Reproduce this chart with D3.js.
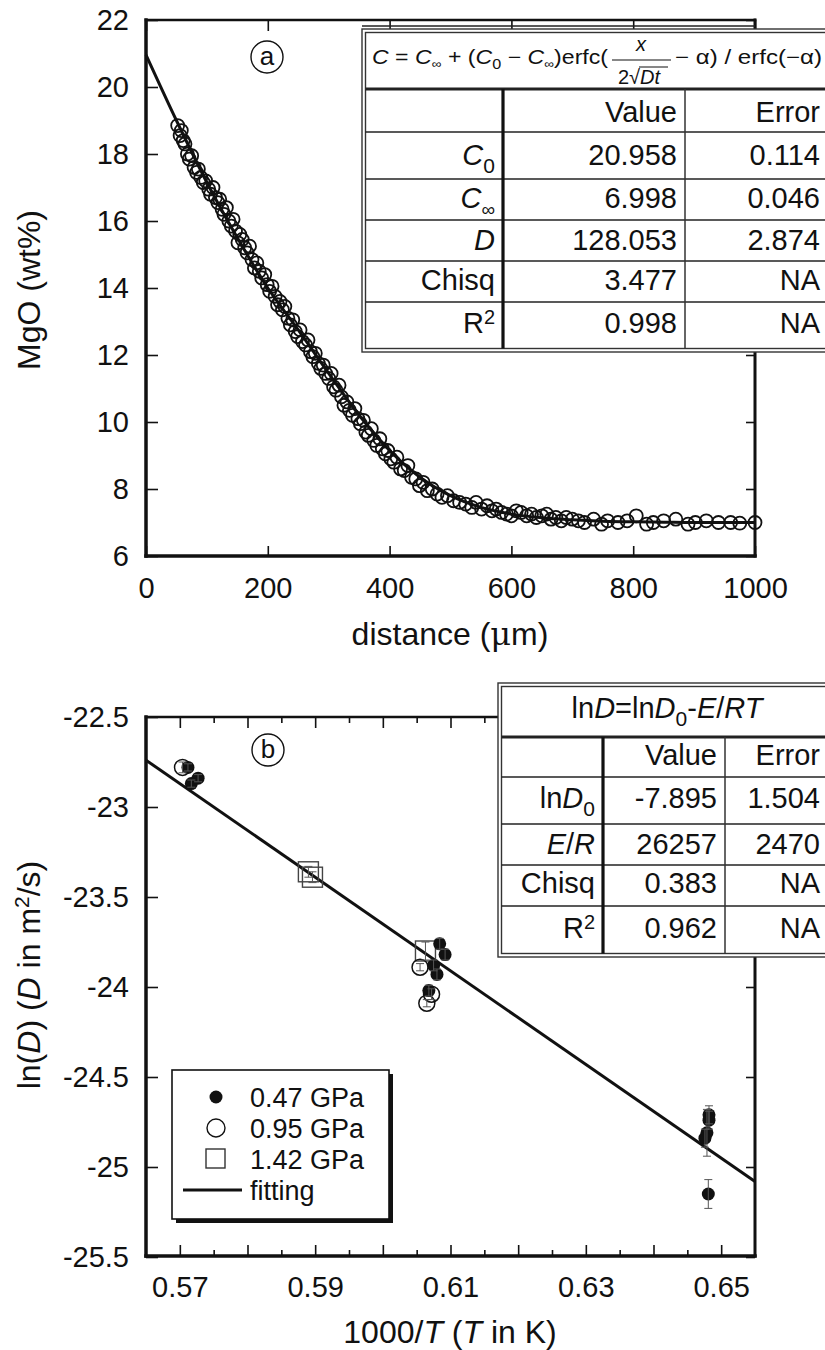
<!DOCTYPE html>
<html>
<head>
<meta charset="utf-8">
<script src="https://cdn.jsdelivr.net/npm/d3@7"></script>
<style>
  body { margin: 0; background: #fff; }
  svg text { font-family: "Liberation Sans", Arial, sans-serif; fill: #111; }
</style>
</head>
<body>
<svg id="chart" width="825" height="1350"></svg>
<script>
// ---- panel (a): MgO diffusion profile ----
const aDist = [52,56,58,61,64,68,71,75,79,83,86,90,94,98,103,106,110,114,118,121,125,128,132,136,140,143,147,151,154,158,162,166,170,174,178,182,186,190,195,199,203,207,212,216,220,224,228,233,237,241,245,249,253,257,262,266,270,274,278,283,287,291,295,300,304,308,312,317,321,325,330,334,339,343,348,352,357,361,365,370,374,379,384,388,393,397,402,407,412,418,424,430,436,443,449,455,462,470,478,486,495,505,515,525,535,542,551,560,568,575,584,592,600,608,616,625,633,641,650,658,665,673,682,690,700,710,720,735,748,758,775,790,805,822,833,850,870,890,902,920,940,960,975,1000];
const aMgO = [18.85,18.55,18.7,18.4,18.3,18.0,17.85,17.95,17.6,17.45,17.55,17.3,17.15,17.2,16.95,16.8,17.0,16.7,16.55,16.65,16.35,16.2,16.4,16.0,15.85,16.05,15.7,15.35,15.6,15.45,15.2,15.05,15.25,14.85,14.6,14.75,14.5,14.3,14.4,14.1,13.9,14.05,13.75,13.5,13.6,13.35,13.45,13.1,12.9,13.05,12.7,12.55,12.75,12.4,12.3,12.45,12.1,11.95,12.05,11.75,11.6,11.7,11.45,11.3,11.45,11.05,10.95,11.1,10.75,10.5,10.6,10.35,10.2,10.4,10.1,9.95,10.05,9.7,9.6,9.8,9.45,9.3,9.5,9.2,9.05,9.15,8.9,8.8,8.95,8.6,8.55,8.7,8.35,8.3,8.1,8.2,7.95,8.0,7.85,7.75,7.8,7.65,7.6,7.55,7.45,7.6,7.4,7.5,7.35,7.4,7.3,7.25,7.2,7.35,7.3,7.2,7.25,7.15,7.2,7.25,7.1,7.15,7.05,7.15,7.1,7.05,7.0,7.1,6.95,7.05,7.0,7.05,7.2,6.95,7.0,7.05,7.1,6.95,7.0,7.05,7.0,7.0,6.98,7.0];
// fitted curve
const aFitX = [0,50,100,150,200,250,300,350,400,450,500,550,600,650,700,750,800,850,900,950,1000];
const aFitY = [20.96,19.0,17.15,15.5,14.0,12.75,11.45,10.2,9.15,8.35,7.8,7.45,7.25,7.14,7.08,7.04,7.02,7.01,7.0,7.0,7.0];
const aXTicks = [0,200,400,600,800,1000];
const aYTicks = [6,8,10,12,14,16,18,20,22];
const aRowLabels = ["C0","Cinf","D","Chisq","R2"];
const aValues = ["20.958","6.998","128.053","3.477","0.998"];
const aErrors = ["0.114","0.046","2.874","NA","NA"];

// ---- panel (b): Arrhenius plot ----
const p047X = [0.5712,0.5727,0.5717,0.6084,0.6092,0.6080,0.6068,0.6075,0.6482,0.6482,0.6479,0.6476,0.6481];
const p047Y = [-22.78,-22.84,-22.87,-23.76,-23.82,-23.93,-24.02,-23.88,-24.71,-24.74,-24.81,-24.84,-25.15];
const p047E = [0.02,0.02,0.02,0.03,0.03,0.03,0.03,0.03,0.05,0.05,0.13,0.05,0.08];
const p095X = [0.5704,0.6055,0.6072,0.6065];
const p095Y = [-22.78,-23.89,-24.04,-24.09];
const p095E = [0.03,0.02,0.03,0.02];
const p142X = [0.5890,0.5896,0.6063];
const p142Y = [-23.36,-23.39,-23.80];
const p142E = [0.03,0.03,0.05];
const bFitX = [0.565,0.655];
const bFitY = [-22.74,-25.08];
const bXMajor = [0.57,0.58,0.59,0.60,0.61,0.62,0.63,0.64,0.65];
const bXMinor = [0.575,0.585,0.595,0.605,0.615,0.625,0.635,0.645];
const bXLabels = [0.57,0.59,0.61,0.63,0.65];
const bYTicks = [-25.5,-25,-24.5,-24,-23.5,-23,-22.5];
const bRowLabels = ["lnD0","E/R","Chisq","R2"];
const bValues = ["-7.895","26257","0.383","0.962"];
const bErrors = ["1.504","2470","NA","NA"];
const legendLabels = ["0.47 GPa","0.95 GPa","1.42 GPa","fitting"];

const svg = d3.select("#chart");
svg.append("rect").attr("width", 825).attr("height", 1350).attr("fill", "#fff");

const xA = d3.scaleLinear().domain([0, 1000]).range([146, 755]);
const yA = d3.scaleLinear().domain([6, 22]).range([556, 20]);
const xB = d3.scaleLinear().domain([0.565, 0.655]).range([146, 755]);
const yB = d3.scaleLinear().domain([-25.5, -22.5]).range([1257, 717]);

const tickFont = "29px";

function styleAxis(g) {
  g.select(".domain").remove();
  g.selectAll(".tick line").attr("stroke", "#111").attr("stroke-width", 1.6);
  g.selectAll(".tick text").style("font-size", tickFont).attr("fill", "#111");
}

function frame(x0, x1, y0, y1) {
  const f = svg.append("g").attr("stroke", "#111").attr("stroke-linecap", "square");
  f.append("line").attr("x1", x0).attr("x2", x1).attr("y1", y0).attr("y2", y0).attr("stroke-width", 2.5);
  f.append("line").attr("x1", x1).attr("x2", x1).attr("y1", y0).attr("y2", y1).attr("stroke-width", 3);
  f.append("line").attr("x1", x0).attr("x2", x1).attr("y1", y1).attr("y2", y1).attr("stroke-width", 3.5);
  f.append("line").attr("x1", x0).attr("x2", x0).attr("y1", y0).attr("y2", y1).attr("stroke-width", 3.5);
}

function circledLetter(cx, cy, ch) {
  svg.append("circle").attr("cx", cx).attr("cy", cy).attr("r", 16)
    .attr("fill", "#fff").attr("stroke", "#111").attr("stroke-width", 1.4);
  svg.append("text").attr("x", cx).attr("y", cy + 8).attr("text-anchor", "middle")
    .style("font-size", "26px").text(ch);
}

// subscript / superscript helper for table labels
function richLabel(t, key) {
  if (key === "C0") {
    t.append("tspan").style("font-style", "italic").text("C");
    t.append("tspan").attr("dy", 8).style("font-size", "21px").text("0");
  } else if (key === "Cinf") {
    t.append("tspan").style("font-style", "italic").text("C");
    t.append("tspan").attr("dy", 8).style("font-size", "19px").text("\u221E");
  } else if (key === "D") {
    t.append("tspan").style("font-style", "italic").text("D");
  } else if (key === "R2") {
    t.append("tspan").text("R");
    t.append("tspan").attr("dy", -9).style("font-size", "20px").text("2");
  } else if (key === "lnD0") {
    t.append("tspan").text("ln");
    t.append("tspan").style("font-style", "italic").text("D");
    t.append("tspan").attr("dy", 8).style("font-size", "21px").text("0");
  } else if (key === "E/R") {
    t.append("tspan").style("font-style", "italic").text("E");
    t.append("tspan").text("/");
    t.append("tspan").style("font-style", "italic").text("R");
  } else {
    t.text(key);
  }
}

function statTable(o) {
  const g = svg.append("g");
  g.append("rect").attr("x", o.x0).attr("y", o.y0).attr("width", 840 - o.x0).attr("height", o.y1 - o.y0)
    .attr("fill", "#fff").attr("stroke", "#333").attr("stroke-width", 1.4);
  g.append("rect").attr("x", o.x0 + 3.5).attr("y", o.y0 + 3.5).attr("width", 840 - o.x0).attr("height", o.y1 - o.y0 - 7)
    .attr("fill", "none").attr("stroke", "#333").attr("stroke-width", 1.4);
  const bottom = o.y1 - 3.5;
  // horizontal rules
  o.rows.forEach((ry, i) => {
    g.append("line").attr("x1", o.x0 + 3.5).attr("x2", 830).attr("y1", ry).attr("y2", ry)
      .attr("stroke", "#222").attr("stroke-width", i === 0 ? 3.2 : 1.5);
  });
  // column rules
  g.append("line").attr("x1", o.c1).attr("x2", o.c1).attr("y1", o.rows[0]).attr("y2", bottom)
    .attr("stroke", "#111").attr("stroke-width", 3.2);
  g.append("line").attr("x1", o.c2).attr("x2", o.c2).attr("y1", o.rows[0]).attr("y2", bottom)
    .attr("stroke", "#333").attr("stroke-width", 1.5);
  const fs = "29px";
  g.append("text").attr("x", o.c2 - 8).attr("y", o.base[0]).attr("text-anchor", "end").style("font-size", fs).text("Value");
  g.append("text").attr("x", 820).attr("y", o.base[0]).attr("text-anchor", "end").style("font-size", fs).text("Error");
  o.labels.forEach((lab, i) => {
    const t = g.append("text").attr("x", o.c1 - 8).attr("y", o.base[i + 1]).attr("text-anchor", "end").style("font-size", fs);
    richLabel(t, lab);
    g.append("text").attr("x", o.c2 - 8).attr("y", o.base[i + 1]).attr("text-anchor", "end").style("font-size", fs).text(o.values[i]);
    g.append("text").attr("x", 820).attr("y", o.base[i + 1]).attr("text-anchor", "end").style("font-size", fs).text(o.errors[i]);
  });
  return g;
}

// ================= panel (a) =================
const aData = aDist.map((d, i) => ({ x: d, y: aMgO[i] }));
const aFit = aFitX.map((d, i) => ({ x: d, y: aFitY[i] }));

svg.append("g").attr("transform", "translate(0,556)")
  .call(d3.axisBottom(xA).tickValues(aXTicks).tickSize(-10).tickPadding(21).tickFormat(d => String(d)))
  .call(styleAxis);
svg.append("g").attr("transform", "translate(146,0)")
  .call(d3.axisLeft(yA).tickValues(aYTicks).tickSize(-12).tickPadding(17).tickFormat(d => String(d)))
  .call(styleAxis);
svg.append("g").attr("transform", "translate(0,20)")
  .call(d3.axisTop(xA).tickValues(aXTicks).tickSize(-11).tickFormat(""))
  .call(styleAxis);
svg.append("g").attr("transform", "translate(755,0)")
  .call(d3.axisRight(yA).tickValues(aYTicks).tickSize(-9).tickFormat(""))
  .call(styleAxis);
frame(146, 755, 20, 556);

svg.append("path").datum(aFit)
  .attr("fill", "none").attr("stroke", "#111").attr("stroke-width", 3)
  .attr("d", d3.line().x(d => xA(d.x)).y(d => yA(d.y)).curve(d3.curveMonotoneX));

svg.append("g").selectAll("circle").data(aData).join("circle")
  .attr("cx", d => xA(d.x)).attr("cy", d => yA(d.y)).attr("r", 6.5)
  .attr("fill", "none").attr("stroke", "#111").attr("stroke-width", 1.8);

// table (a)
svg.append("line").attr("x1", 362).attr("x2", 755).attr("y1", 26).attr("y2", 26)
  .attr("stroke", "#222").attr("stroke-width", 1.5);
statTable({ x0: 362, y0: 29, y1: 352, rows: [89, 132, 179, 220, 261, 302], c1: 503, c2: 685,
  base: [122, 165, 208, 250, 290, 333], labels: aRowLabels, values: aValues, errors: aErrors });

// formula in the header row of table (a)
const fA = svg.append("g").style("font-size", "20px");
const f1 = fA.append("text").attr("x", 372).attr("y", 64).attr("textLength", 236).attr("lengthAdjust", "spacingAndGlyphs");
f1.append("tspan").style("font-style", "italic").text("C");
f1.append("tspan").text(" = ");
f1.append("tspan").style("font-style", "italic").text("C");
f1.append("tspan").attr("dy", 4).style("font-size", "12px").text("\u221E");
f1.append("tspan").attr("dy", -4).text(" + (");
f1.append("tspan").style("font-style", "italic").text("C");
f1.append("tspan").attr("dy", 5).style("font-size", "14px").text("0");
f1.append("tspan").attr("dy", -5).text(" \u2212 ");
f1.append("tspan").style("font-style", "italic").text("C");
f1.append("tspan").attr("dy", 4).style("font-size", "12px").text("\u221E");
f1.append("tspan").attr("dy", -4).text(")erfc(");
fA.append("text").attr("x", 641).attr("y", 51).attr("text-anchor", "middle").style("font-style", "italic").text("x");
fA.append("line").attr("x1", 612).attr("x2", 671).attr("y1", 60).attr("y2", 60).attr("stroke", "#111").attr("stroke-width", 1.2);
const f2 = fA.append("text").attr("x", 618).attr("y", 84);
f2.append("tspan").text("2\u221A");
f2.append("tspan").style("font-style", "italic").text("Dt");
fA.append("line").attr("x1", 639).attr("x2", 668).attr("y1", 67).attr("y2", 67).attr("stroke", "#111").attr("stroke-width", 1);
fA.append("text").attr("x", 675).attr("y", 64).attr("textLength", 147).attr("lengthAdjust", "spacingAndGlyphs")
  .text("\u2212 \u03B1) / erfc(\u2212\u03B1)");

circledLetter(267, 57, "a");

svg.append("text").attr("transform", "translate(40,290) rotate(-90)").attr("text-anchor", "middle")
  .style("font-size", "32px").text("MgO (wt%)");
const tA = svg.append("text").attr("x", 450).attr("y", 645).attr("text-anchor", "middle").style("font-size", "32px");
tA.append("tspan").text("distance (");
tA.append("tspan").style("font-family", "'DejaVu Serif', serif").text("\u03BC");
tA.append("tspan").text("m)");

// ================= panel (b) =================
svg.append("g").attr("transform", "translate(0,1256)")
  .call(d3.axisBottom(xB).tickValues(bXMajor).tickSize(-11).tickPadding(20)
    .tickFormat(d => bXLabels.some(v => Math.abs(v - d) < 1e-9) ? d3.format(".2f")(d) : ""))
  .call(styleAxis);
svg.append("g").attr("transform", "translate(0,1256)")
  .call(d3.axisBottom(xB).tickValues(bXMinor).tickSize(-6).tickFormat(""))
  .call(styleAxis);
svg.append("g").attr("transform", "translate(0,717)")
  .call(d3.axisTop(xB).tickValues(bXMajor).tickSize(-11).tickFormat(""))
  .call(styleAxis);
svg.append("g").attr("transform", "translate(0,717)")
  .call(d3.axisTop(xB).tickValues(bXMinor).tickSize(-6).tickFormat(""))
  .call(styleAxis);
svg.append("g").attr("transform", "translate(146,0)")
  .call(d3.axisLeft(yB).tickValues(bYTicks).tickSize(-12).tickPadding(17).tickFormat(d => String(d)))
  .call(styleAxis);
svg.append("g").attr("transform", "translate(755,0)")
  .call(d3.axisRight(yB).tickValues(bYTicks).tickSize(-9).tickFormat(""))
  .call(styleAxis);
frame(146, 755, 717, 1256);

const bFit = bFitX.map((d, i) => ({ x: d, y: bFitY[i] }));
svg.append("path").datum(bFit)
  .attr("fill", "none").attr("stroke", "#111").attr("stroke-width", 3)
  .attr("d", d3.line().x(d => xB(d.x)).y(d => yB(d.y)));

const s047 = p047X.map((d, i) => ({ x: d, y: p047Y[i], e: p047E[i] }));
const s095 = p095X.map((d, i) => ({ x: d, y: p095Y[i], e: p095E[i] }));
const s142 = p142X.map((d, i) => ({ x: d, y: p142Y[i], e: p142E[i] }));

svg.append("g").selectAll("rect").data(s142).join("rect")
  .attr("x", d => xB(d.x) - 10).attr("y", d => yB(d.y) - 10).attr("width", 20).attr("height", 20)
  .attr("fill", "none").attr("stroke", "#444").attr("stroke-width", 1.4);
svg.append("g").selectAll("circle").data(s095).join("circle")
  .attr("cx", d => xB(d.x)).attr("cy", d => yB(d.y)).attr("r", 8)
  .attr("fill", "none").attr("stroke", "#111").attr("stroke-width", 1.5);
svg.append("g").selectAll("circle").data(s047).join("circle")
  .attr("cx", d => xB(d.x)).attr("cy", d => yB(d.y)).attr("r", 6.5)
  .attr("fill", "#111");

// error bars
const allB = s047.concat(s095, s142);
const eb = svg.append("g").attr("stroke", "#555").attr("stroke-width", 1);
allB.forEach(d => {
  const cx = xB(d.x), t = yB(d.y + d.e), b = yB(d.y - d.e);
  eb.append("line").attr("x1", cx).attr("x2", cx).attr("y1", t).attr("y2", b);
  eb.append("line").attr("x1", cx - 4).attr("x2", cx + 4).attr("y1", t).attr("y2", t);
  eb.append("line").attr("x1", cx - 4).attr("x2", cx + 4).attr("y1", b).attr("y2", b);
});

// table (b)
statTable({ x0: 498, y0: 683, y1: 957, rows: [737, 777, 824, 865, 906], c1: 603, c2: 725,
  base: [765, 808, 854, 893, 938], labels: bRowLabels, values: bValues, errors: bErrors });
const hB = svg.append("text").attr("x", 667).attr("y", 718).attr("text-anchor", "middle").style("font-size", "29px");
hB.append("tspan").text("ln");
hB.append("tspan").style("font-style", "italic").text("D");
hB.append("tspan").text("=ln");
hB.append("tspan").style("font-style", "italic").text("D");
hB.append("tspan").attr("dy", 8).style("font-size", "21px").text("0");
hB.append("tspan").attr("dy", -8).text("-");
hB.append("tspan").style("font-style", "italic").text("E");
hB.append("tspan").text("/");
hB.append("tspan").style("font-style", "italic").text("RT");

circledLetter(268, 750, "b");

// legend
const lg = svg.append("g");
lg.append("rect").attr("x", 176).attr("y", 1074).attr("width", 217).attr("height", 149).attr("fill", "#111");
lg.append("rect").attr("x", 172).attr("y", 1070).attr("width", 217).attr("height", 149)
  .attr("fill", "#fff").attr("stroke", "#111").attr("stroke-width", 1.6);
const lgY = [1097, 1128, 1159, 1190];
lg.append("circle").attr("cx", 216).attr("cy", lgY[0]).attr("r", 6.5).attr("fill", "#111");
lg.append("circle").attr("cx", 216).attr("cy", lgY[1]).attr("r", 9).attr("fill", "none").attr("stroke", "#111").attr("stroke-width", 1.4);
lg.append("rect").attr("x", 206).attr("y", lgY[2] - 10).attr("width", 19).attr("height", 19)
  .attr("fill", "none").attr("stroke", "#333").attr("stroke-width", 1.4);
lg.append("line").attr("x1", 183).attr("x2", 242).attr("y1", lgY[3]).attr("y2", lgY[3]).attr("stroke", "#111").attr("stroke-width", 3);
legendLabels.forEach((l, i) => {
  lg.append("text").attr("x", 250).attr("y", lgY[i] + 10).style("font-size", "27px").text(l);
});

svg.append("text").attr("transform", "translate(40,975) rotate(-90)").attr("text-anchor", "middle")
  .style("font-size", "32px")
  .call(t => {
    t.append("tspan").text("ln(");
    t.append("tspan").style("font-style", "italic").text("D");
    t.append("tspan").text(") (");
    t.append("tspan").style("font-style", "italic").text("D");
    t.append("tspan").text(" in m");
    t.append("tspan").attr("dy", -11).style("font-size", "21px").text("2");
    t.append("tspan").attr("dy", 11).text("/s)");
  });
const tB = svg.append("text").attr("x", 450).attr("y", 1343).attr("text-anchor", "middle").style("font-size", "32px");
tB.append("tspan").text("1000/");
tB.append("tspan").style("font-style", "italic").text("T");
tB.append("tspan").text(" (");
tB.append("tspan").style("font-style", "italic").text("T");
tB.append("tspan").text(" in K)");
</script>
</body>
</html>
